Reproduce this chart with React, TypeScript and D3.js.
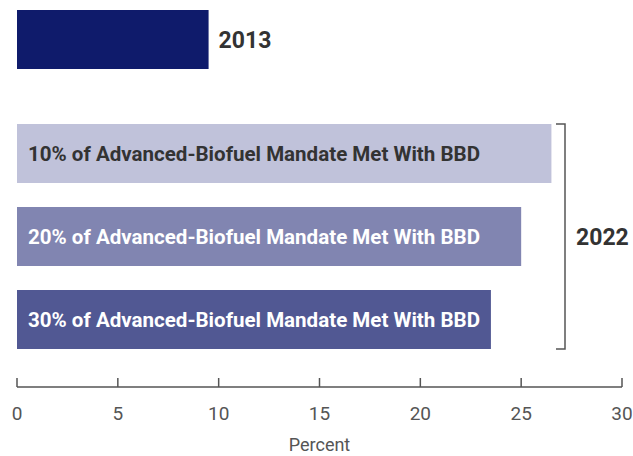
import * as d3 from "d3";

// 2022 scenarios and one 2013 bar (percent)
const BASE_YEAR = "2013";
const BASE_VALUE = 9.5;
const SCENARIO_YEAR = "2022";
const SCENARIOS = [
  "10% of Advanced-Biofuel Mandate Met With BBD",
  "20% of Advanced-Biofuel Mandate Met With BBD",
  "30% of Advanced-Biofuel Mandate Met With BBD",
];
const SCENARIO_VALUES = [26.5, 25.0, 23.5];
const X_TICKS = [0, 5, 10, 15, 20, 25, 30];

const ROWS = ["base", ...SCENARIOS];
const FILLS = ["#0f1b6b", "#c0c2da", "#8185b1", "#515893"];
const TEXT_FILLS = ["#fff", "#333", "#fff", "#fff"];

const W = 633;
const H = 456;
const FONT = "Roboto, 'Liberation Sans', sans-serif";

export default function App() {
  const x = d3.scaleLinear().domain([0, 30]).range([17, 622]);
  // rows: base bar on top, then a gap, then the three scenarios
  const rowTop = d3.scaleOrdinal<string, number>().domain(ROWS).range([10, 124, 207, 290]);
  const barH = 59;
  const values = [BASE_VALUE, ...SCENARIO_VALUES];
  const axisY = 387;
  const bracketX = 565;
  const top = rowTop(SCENARIOS[0]);
  const bottom = rowTop(SCENARIOS[2]) + barH;

  return (
    <svg width={W} height={H} style={{ position: "absolute", left: 0, top: 0 }} fontFamily={FONT}>
      <rect width={W} height={H} fill="#fff" />
      {ROWS.map((r, i) => (
        <g key={r}>
          <rect x={x(0)} y={rowTop(r)} width={x(values[i]) - x(0)} height={barH} fill={FILLS[i]} />
          {i > 0 && (
            <text x={x(0) + 11} y={rowTop(r) + barH / 2} dy="0.36em" fontSize={20} fontWeight="bold"
              fill={TEXT_FILLS[i]} textLength={452} lengthAdjust="spacingAndGlyphs">
              {r}
            </text>
          )}
        </g>
      ))}
      <text x={x(BASE_VALUE) + 10} y={rowTop("base") + barH / 2} dy="0.35em" fontSize={23} fontWeight="bold" fill="#333">
        {BASE_YEAR}
      </text>

      {/* bracket for 2022 */}
      <path d={`M${bracketX - 9},${top}H${bracketX}V${bottom}H${bracketX - 9}`} fill="none" stroke="#555" strokeWidth={1.5} />
      <text x={576} y={(top + bottom) / 2} dy="0.35em" fontSize={23} fontWeight="bold" fill="#333">
        {SCENARIO_YEAR}
      </text>

      {/* x axis */}
      <line x1={x(0)} x2={x(30)} y1={axisY} y2={axisY} stroke="#555" strokeWidth={1.5} />
      {X_TICKS.map(t => (
        <g key={t}>
          <line x1={x(t)} x2={x(t)} y1={axisY} y2={axisY - 9} stroke="#555" strokeWidth={1.5} />
          <text x={x(t)} y={413} dy="0.35em" textAnchor="middle" fontSize={19} fill="#555">{t}</text>
        </g>
      ))}
      <text x={x(15)} y={445} dy="0.35em" textAnchor="middle" fontSize={18} fill="#555">Percent</text>
    </svg>
  );
}
